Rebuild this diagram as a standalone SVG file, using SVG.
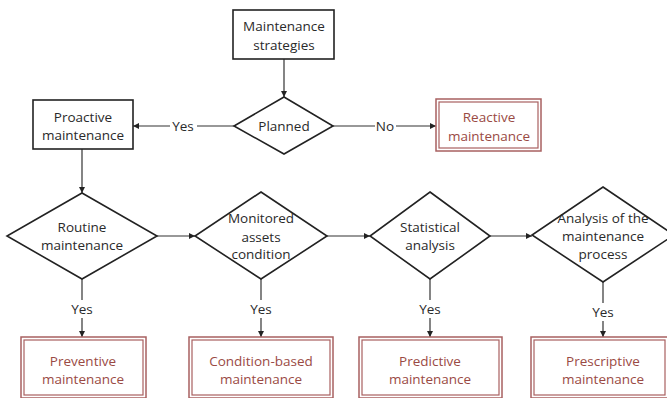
<svg xmlns="http://www.w3.org/2000/svg" width="667" height="398" viewBox="0 0 667 398">
<style>
text{font-family:"Open Sans","Noto Sans",sans-serif;font-size:13.5px;fill:#2a2a2a;text-anchor:middle;dominant-baseline:central}
.box{fill:#fff;stroke:#222;stroke-width:1.6}
.dia{fill:#fff;stroke:#222;stroke-width:1.6}
.rout{fill:#fff;stroke:#a86060;stroke-width:1.5}
.rin{fill:none;stroke:#a86060;stroke-width:1.2}
.rt{fill:#9a4a44}
.ln{fill:none;stroke:#333;stroke-width:1.2}
.lab{fill:#2a2a2a}
</style>
<defs>
<marker id="ah" viewBox="0 0 10 10" refX="10" refY="5" markerWidth="6" markerHeight="6" markerUnits="userSpaceOnUse" orient="auto">
<path d="M0,0 L10,5 L0,10 z" fill="#222"/>
</marker>
</defs>
<g id="connectors">
<path class="ln" d="M284,59 V97" marker-end="url(#ah)"/>
<path class="ln" d="M234,126 H197"/>
<path class="ln" d="M170,126 H133" marker-end="url(#ah)"/>
<text class="lab" x="183" y="126">Yes</text>
<path class="ln" d="M333,126 H375"/>
<path class="ln" d="M396,126 H436" marker-end="url(#ah)"/>
<text class="lab" x="385" y="126">No</text>
<path class="ln" d="M82,149 V193" marker-end="url(#ah)"/>
<path class="ln" d="M157,236 H195" marker-end="url(#ah)"/>
<path class="ln" d="M327,236 H370" marker-end="url(#ah)"/>
<path class="ln" d="M490,236 H532" marker-end="url(#ah)"/>
<path class="ln" d="M82,279 V300"/>
<path class="ln" d="M82,318 V337" marker-end="url(#ah)"/>
<text class="lab" x="82" y="309">Yes</text>
<path class="ln" d="M261,279 V300"/>
<path class="ln" d="M261,318 V337" marker-end="url(#ah)"/>
<text class="lab" x="261" y="309">Yes</text>
<path class="ln" d="M430,279 V300"/>
<path class="ln" d="M430,318 V337" marker-end="url(#ah)"/>
<text class="lab" x="430" y="309">Yes</text>
<path class="ln" d="M603,282 V303"/>
<path class="ln" d="M603,321 V337" marker-end="url(#ah)"/>
<text class="lab" x="603" y="312">Yes</text>
</g>
<g id="strategies">
<rect class="box" x="233" y="10" width="101" height="49"/>
<text x="284" y="26">Maintenance</text>
<text x="284" y="45">strategies</text>
</g>
<g id="planned">
<path class="dia" d="M284,97 L333,126 L284,154 L234,126 Z"/>
<text x="284" y="126">Planned</text>
</g>
<g id="proactive">
<rect class="box" x="33" y="100" width="100" height="49"/>
<text x="83" y="117">Proactive</text>
<text x="83" y="135">maintenance</text>
</g>
<g id="reactive">
<rect class="rout" x="436" y="99" width="105" height="52"/>
<rect class="rin" x="439" y="102" width="99" height="46"/>
<text class="rt" x="489" y="117">Reactive</text>
<text class="rt" x="489" y="136">maintenance</text>
</g>
<g id="routine">
<path class="dia" d="M82,193 L157,236 L82,279 L7,236 Z"/>
<text x="82" y="227">Routine</text>
<text x="82" y="245">maintenance</text>
</g>
<g id="monitored">
<path class="dia" d="M261,192 L327,236 L261,279 L195,236 Z"/>
<text x="261" y="218">Monitored</text>
<text x="261" y="237">assets</text>
<text x="261" y="254">condition</text>
</g>
<g id="statistical">
<path class="dia" d="M430,192 L490,236 L430,279 L370,236 Z"/>
<text x="430" y="227">Statistical</text>
<text x="430" y="245">analysis</text>
</g>
<g id="analysis">
<path class="dia" d="M603,187 L674,235 L603,282 L532,235 Z"/>
<text x="603" y="218">Analysis of the</text>
<text x="603" y="236">maintenance</text>
<text x="603" y="254">process</text>
</g>
<g id="preventive">
<rect class="rout" x="21" y="337" width="125" height="61"/>
<rect class="rin" x="24" y="340" width="119" height="55"/>
<text class="rt" x="83" y="361">Preventive</text>
<text class="rt" x="83" y="379">maintenance</text>
</g>
<g id="condition">
<rect class="rout" x="189" y="337" width="144" height="61"/>
<rect class="rin" x="192" y="340" width="138" height="55"/>
<text class="rt" x="261" y="361">Condition-based</text>
<text class="rt" x="261" y="379">maintenance</text>
</g>
<g id="predictive">
<rect class="rout" x="359" y="337" width="143" height="61"/>
<rect class="rin" x="362" y="340" width="137" height="55"/>
<text class="rt" x="430" y="361">Predictive</text>
<text class="rt" x="430" y="379">maintenance</text>
</g>
<g id="prescriptive">
<rect class="rout" x="531" y="337" width="144" height="61"/>
<rect class="rin" x="534" y="340" width="131" height="55"/>
<text class="rt" x="603" y="361">Prescriptive</text>
<text class="rt" x="603" y="379">maintenance</text>
</g>
</svg>
